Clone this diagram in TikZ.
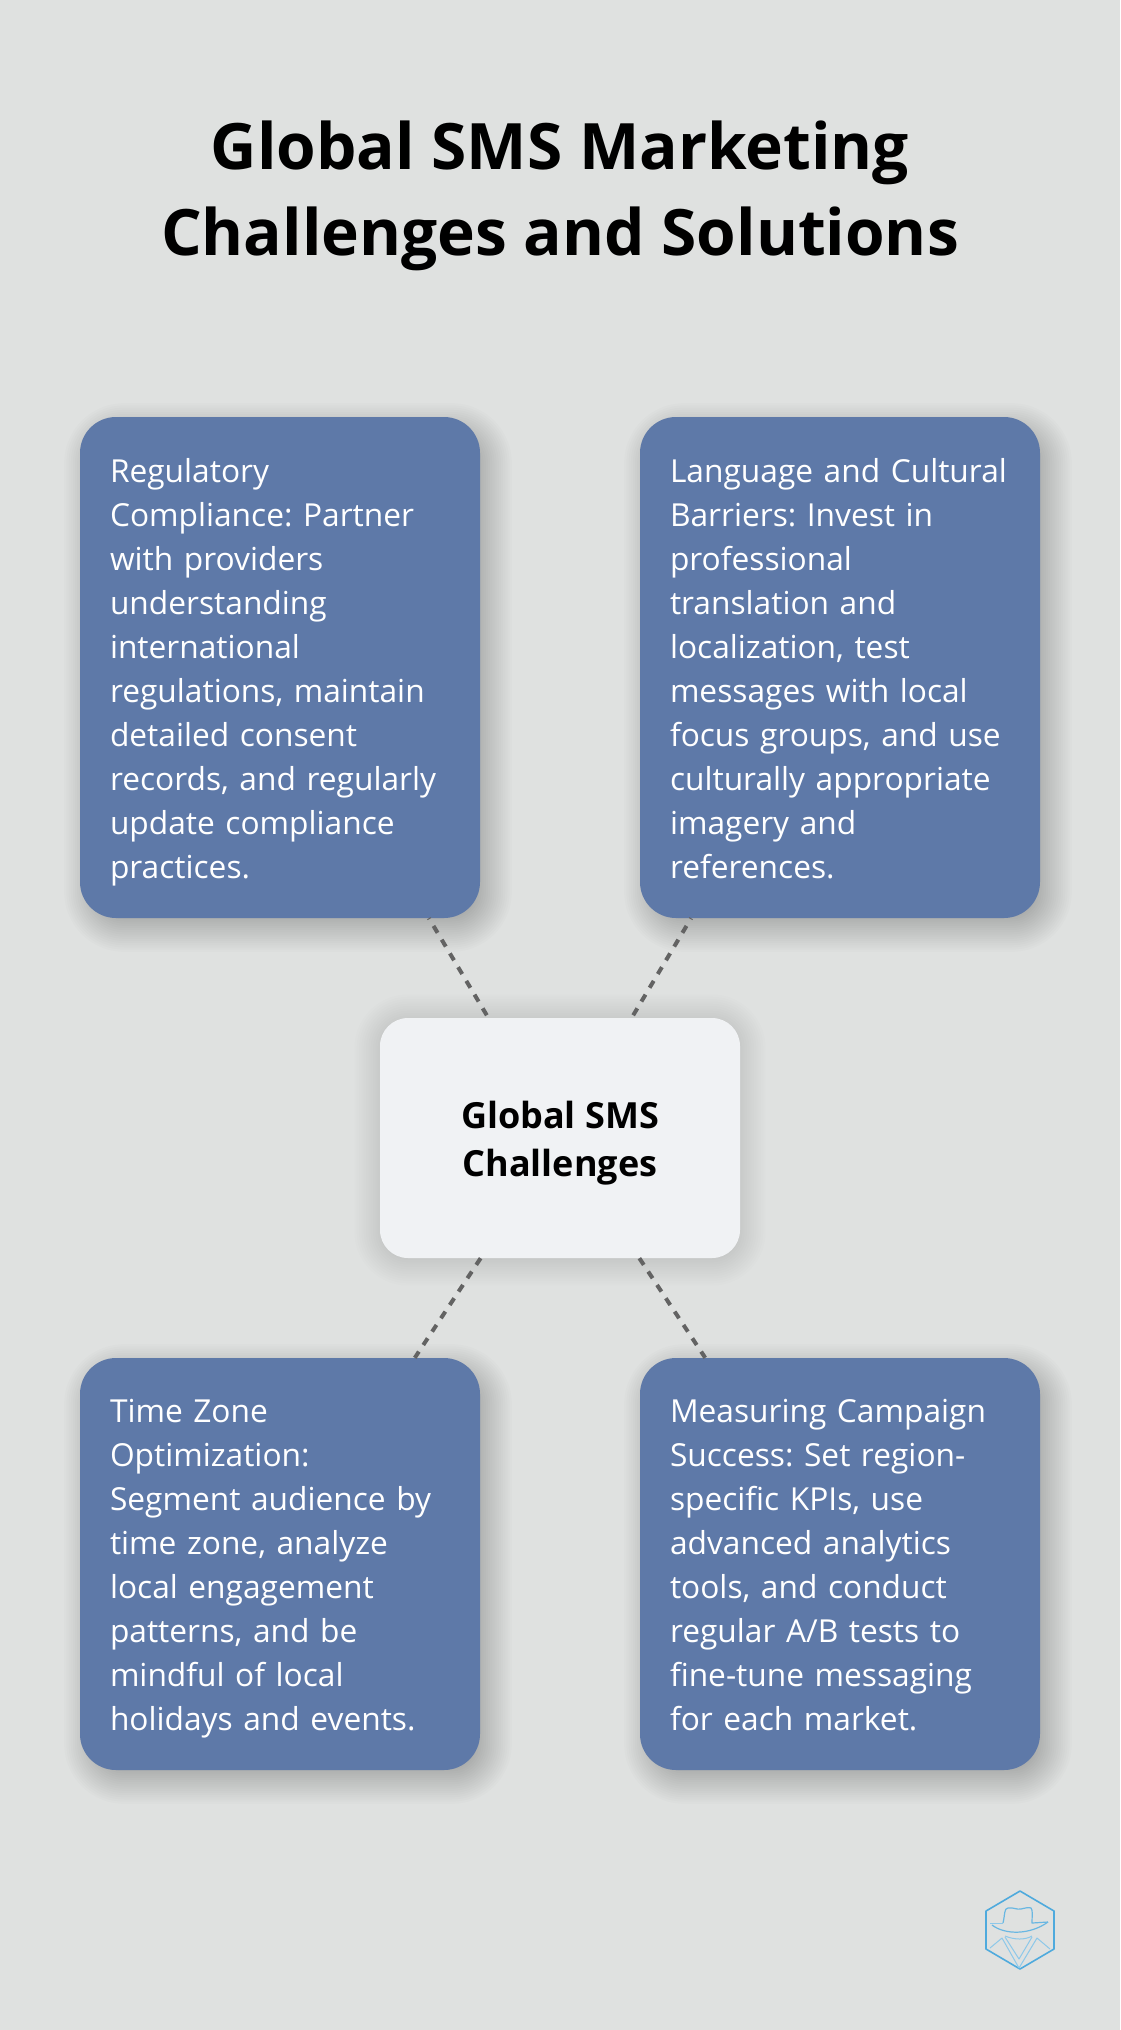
\documentclass[tikz,border=0pt]{standalone}
\usepackage{fontspec}
\setmainfont{Open Sans}
\definecolor{bgc}{HTML}{DFE1E0}
\definecolor{bluec}{HTML}{5E79A8}
\definecolor{centerc}{HTML}{F0F2F4}
\definecolor{linec}{HTML}{636363}
\definecolor{logoc}{HTML}{4FAADD}
\newcommand{\softshadow}[9]{%
  \foreach \i in {1,...,24}{
    \pgfmathsetmacro{\grow}{#8*(1-2*\i/24)}
    \pgfmathsetmacro{\rad}{max(1,#5+\grow)}
    \fill[black,opacity=#9,rounded corners=\rad pt]
      ({#1+#6-\grow},{#2+#7-\grow}) rectangle ({#3+#6+\grow},{#4+#7+\grow});
  }}
\newcommand{\topc}{\rule{0pt}{39pt}}
\newcommand{\toph}{\rule{0pt}{44pt}}
\tikzset{
  card/.style={fill=bluec,text=white,rounded corners=36pt,minimum width=400pt,inner xsep=30pt,inner ysep=0pt,text width=340pt,align=left,font=\frenchspacing\fontsize{31.7}{44}\selectfont},
  hub/.style={fill=centerc,text=black,rounded corners=28pt,minimum width=360pt,minimum height=240pt,align=center,font=\frenchspacing\fontsize{36}{48}\selectfont\bfseries},
  heading/.style={text=black,align=center,font=\fontsize{64}{86}\selectfont\bfseries},
  link/.style={draw=linec,line width=4pt,dash pattern=on 8pt off 8pt},
  logoline/.style={draw=logoc,line width=1.6pt,line join=round},
  logohat/.style={draw=logoc!85,line width=1.2pt,line join=round},
  logothin/.style={draw=logoc!65,line width=1pt,line join=round}
}
\begin{document}
\begin{tikzpicture}[x=1pt,y=-1pt]
\fill[bgc] (0,0) rectangle (1120,2030);
\useasboundingbox (0,0) rectangle (1120,2030);
% shadows
\softshadow{80}{417}{480}{918}{36}{8}{10}{26}{0.011}
\softshadow{640}{417}{1040}{918}{36}{8}{10}{26}{0.011}
\softshadow{80}{1358}{480}{1770}{36}{8}{10}{26}{0.011}
\softshadow{640}{1358}{1040}{1770}{36}{8}{10}{26}{0.011}
\softshadow{380}{1018}{740}{1258}{28}{0}{2}{28}{0.006}
% title
\node[heading] (title) at (560,196) {Global SMS Marketing\\Challenges and Solutions};
% cards
\node[card,minimum height=501pt] (tl) at (280,667.5) {\topc Regulatory\\Compliance: Partner\\with providers\\understanding\\international\\regulations, maintain\\detailed consent\\records, and regularly\\update compliance\\practices.\strut};
\node[card,minimum height=501pt] (tr) at (840,667.5) {\topc Language and Cultural\\Barriers: Invest in\\professional\\translation and\\localization, test\\messages with local\\focus groups, and use\\culturally appropriate\\imagery and\\references.\strut};
\node[card,minimum height=412pt] (bl) at (280,1564) {\topc Time Zone\\Optimization:\\Segment audience by\\time zone, analyze\\local engagement\\patterns, and be\\mindful of local\\holidays and events.\strut};
\node[card,minimum height=412pt] (br) at (840,1564) {\topc Measuring Campaign\\Success: Set region-\\specific KPIs, use\\advanced analytics\\tools, and conduct\\regular A/B tests to\\fine-tune messaging\\for each market.\strut};
\node[hub] (hub) at (560,1138) {\toph Global SMS\\Challenges\strut};
% connectors
\draw[link,dash phase=13pt] (hub) -- (tl);
\draw[link,dash phase=13pt] (hub) -- (tr);
\draw[link] (hub) -- (bl);
\draw[link] (hub) -- (br);
% logo
\draw[logoline] (1020,1891) -- (1054,1911) -- (1054,1949) -- (1020,1969) -- (986,1949) -- (986,1911) -- cycle;
\draw[logohat] (1003,1923) .. controls (1005,1915) and (1004,1908) .. (1008,1908) .. controls (1013,1907) and (1017,1910) .. (1021,1909) .. controls (1025,1908) and (1029,1907) .. (1031,1908) .. controls (1033,1910) and (1032,1916) .. (1032,1923) -- (1048,1922);
\draw[logothin] (990,1923) -- (1003,1923);
\draw[logohat] (992,1925) .. controls (1005,1935) and (1030,1935) .. (1048,1922);
\draw[logothin] (1005,1936) .. controls (1015,1940) and (1025,1940) .. (1032,1936);
\draw[logothin] (990,1948) -- (1002,1938) -- (1019,1968) -- (1037,1938) -- (1050,1949);
\draw[logothin] (1005,1937) -- (1019,1959) -- (1032,1937);
\end{tikzpicture}
\end{document}
